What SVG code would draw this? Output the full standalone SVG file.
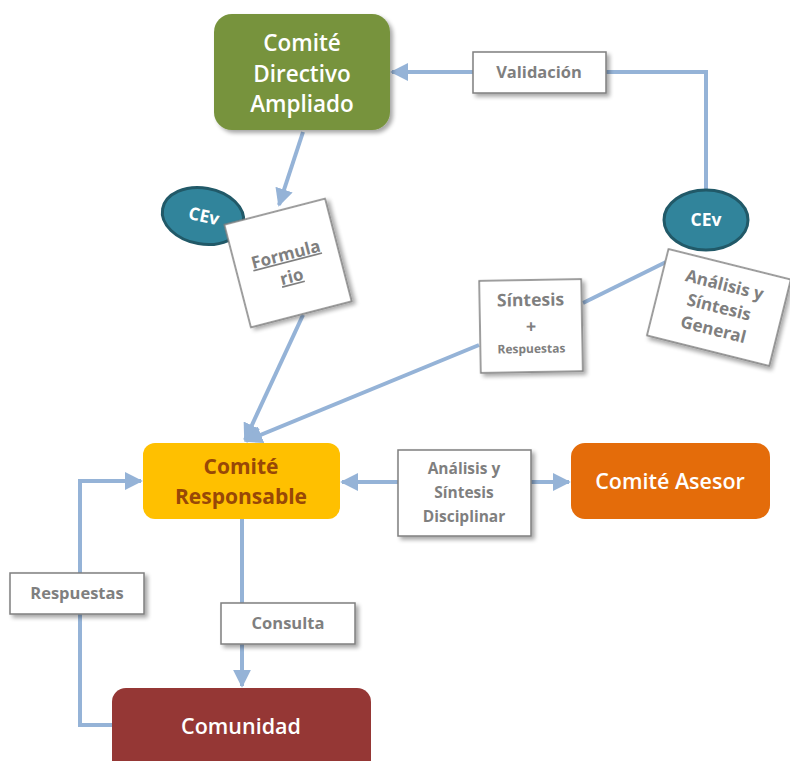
<svg xmlns="http://www.w3.org/2000/svg" width="790" height="761" viewBox="0 0 790 761">
<style>
.lbl{fill:#fff;stroke:#7f7f7f;stroke-width:1.5;filter:url(#sh)}
.lt{fill:#7f7f7f;font-family:"Open Sans","Liberation Sans",sans-serif;font-weight:bold;text-anchor:middle}
.nt{fill:#fff;font-family:"Open Sans","Liberation Sans",sans-serif;font-weight:600;text-anchor:middle}
.ct{fill:#fff;font-family:"Open Sans","Liberation Sans",sans-serif;font-weight:bold;text-anchor:middle;font-size:17.5px}
.cn{fill:none;stroke:#95b3d7;stroke-width:4}
.cev{fill:#31849b;stroke:#215968;stroke-width:3}
</style>
<defs>
<filter id="sh" x="-20%" y="-20%" width="150%" height="150%">
<feGaussianBlur in="SourceAlpha" stdDeviation="2"/>
<feOffset dx="3" dy="3" result="o"/>
<feComponentTransfer><feFuncA type="linear" slope="0.35"/></feComponentTransfer>
<feMerge><feMergeNode/><feMergeNode in="SourceGraphic"/></feMerge>
</filter>
<marker id="ah" viewBox="0 0 10 10" refX="9" refY="5" markerWidth="4.5" markerHeight="4.5" markerUnits="strokeWidth" orient="auto">
<path d="M0,0 L10,5 L0,10 z" fill="#95b3d7"/>
</marker>
</defs>
<g id="connectors">
<polyline class="cn" points="706,190 706,72 606,72"/>
<line class="cn" x1="473" y1="72" x2="392" y2="72" marker-end="url(#ah)"/>
<line class="cn" x1="303" y1="132" x2="279" y2="205" marker-end="url(#ah)"/>
<line class="cn" x1="303" y1="315" x2="245" y2="440" marker-end="url(#ah)"/>
<line class="cn" x1="666" y1="262" x2="583" y2="303"/>
<line class="cn" x1="479" y1="345" x2="246" y2="441" marker-end="url(#ah)"/>
<line class="cn" x1="398" y1="482" x2="342" y2="482" marker-end="url(#ah)"/>
<line class="cn" x1="531" y1="482" x2="569" y2="482" marker-end="url(#ah)"/>
<line class="cn" x1="242" y1="519" x2="242" y2="686" marker-end="url(#ah)"/>
<polyline class="cn" points="112,725 80,725 80,481 141,481" marker-end="url(#ah)"/>
</g>
<g id="comite-directivo">
<rect x="214" y="14" width="176" height="116" rx="18" fill="#77933c" filter="url(#sh)"/>
<text class="nt" x="302" y="51" font-size="22.5">Comité</text>
<text class="nt" x="302" y="82" font-size="22.5">Directivo</text>
<text class="nt" x="302" y="112" font-size="22.5">Ampliado</text>
</g>
<g id="validacion">
<rect class="lbl" x="473" y="52" width="133" height="41"/>
<text class="lt" x="539" y="78" font-size="16.5">Validación</text>
</g>
<g id="cev-left">
<ellipse class="cev" cx="203" cy="216" rx="41" ry="28" transform="rotate(10 203 216)"/>
<text class="ct" x="204" y="222" transform="rotate(12 203 216)">CEv</text>
</g>
<g id="formulario" transform="rotate(-14.5 288 263)">
<rect class="lbl" x="236" y="210" width="104" height="106"/>
<text class="lt" x="288" y="260" font-size="17" text-decoration="underline">Formula</text>
<text class="lt" x="288" y="283" font-size="17" text-decoration="underline">rio</text>
</g>
<g id="cev-right">
<ellipse class="cev" cx="706" cy="220" rx="42" ry="30"/>
<text class="ct" x="706" y="226">CEv</text>
</g>
<g id="analisis-general" transform="rotate(14 719 307)">
<rect class="lbl" x="656" y="263" width="126" height="89"/>
<text class="lt" x="719" y="290" font-size="17">Análisis y</text>
<text class="lt" x="719" y="313" font-size="17">Síntesis</text>
<text class="lt" x="719" y="336" font-size="17">General</text>
</g>
<g id="sintesis" transform="rotate(-1 531 326)">
<rect class="lbl" x="480" y="280" width="102" height="92"/>
<text class="lt" x="531" y="306" font-size="17.5">Síntesis</text>
<text class="lt" x="531" y="333" font-size="18">+</text>
<text class="lt" x="531" y="353" font-size="12">Respuestas</text>
</g>
<g id="comite-responsable">
<rect x="143" y="443" width="197" height="76" rx="12" fill="#ffc000"/>
<text x="241" y="474" font-size="21" font-weight="bold" fill="#984807" font-family="Open Sans, Liberation Sans, sans-serif" text-anchor="middle">Comité</text>
<text x="241" y="504" font-size="21" font-weight="bold" fill="#984807" font-family="Open Sans, Liberation Sans, sans-serif" text-anchor="middle">Responsable</text>
</g>
<g id="analisis-disciplinar">
<rect class="lbl" x="398" y="450" width="133" height="86"/>
<text class="lt" x="464" y="474" font-size="15.5">Análisis y</text>
<text class="lt" x="464" y="498" font-size="15.5">Síntesis</text>
<text class="lt" x="464" y="522" font-size="15.5">Disciplinar</text>
</g>
<g id="comite-asesor">
<rect x="571" y="443" width="199" height="76" rx="14" fill="#e46c0a"/>
<text class="nt" x="670" y="489" font-size="21.5">Comité Asesor</text>
</g>
<g id="respuestas">
<rect class="lbl" x="10" y="573" width="134" height="41"/>
<text class="lt" x="77" y="599" font-size="16.5">Respuestas</text>
</g>
<g id="consulta">
<rect class="lbl" x="221" y="603" width="134" height="41"/>
<text class="lt" x="288" y="629" font-size="16.5">Consulta</text>
</g>
<g id="comunidad">
<rect x="112" y="688" width="259" height="90" rx="14" fill="#953735"/>
<text class="nt" x="241" y="734" font-size="21.5">Comunidad</text>
</g>
</svg>
